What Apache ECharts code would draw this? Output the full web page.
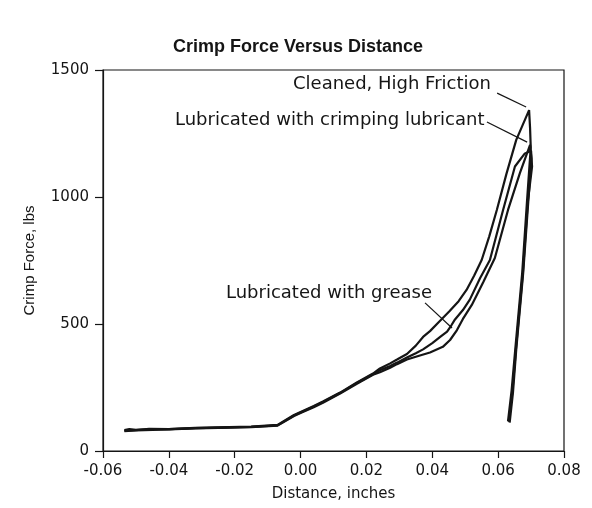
<!DOCTYPE html>
<html>

	<head>
		<meta charset="UTF-8">
		<title>Crimp Force Versus Distance</title>
		<script src="https://cdn.jsdelivr.net/npm/echarts@6.0.0/dist/echarts.min.js"></script>
		<style>
			html, body {
				margin: 0;
				padding: 0;
				background: #fff;
			}
			
			#chart {
				width: 592px;
				height: 508px;
			}
		</style>
	</head>

	<body>
		<div id="chart"></div>
		<script>
			// axis ticks
			var xTicks = [-0.06, -0.04, -0.02, 0.00, 0.02, 0.04, 0.06, 0.08];
			var yTicks = [0, 500, 1000, 1500];

			// curve names
			var seriesNames = ["Cleaned, High Friction", "Lubricated with crimping lubricant", "Lubricated with grease"];

			// [distance in, force lbs]
			var cleanedHighFriction = [
				[-0.0535, 82], [-0.052, 86], [-0.050, 83], [-0.045, 86], [-0.040, 86], [-0.032, 91], [-0.025, 93],
				[-0.015, 96], [-0.007, 103], [-0.002, 142], [0.000, 154], [0.004, 177], [0.0068, 195], [0.012, 230],
				[0.0171, 270], [0.022, 305], [0.0241, 325], [0.0272, 345], [0.0293, 360], [0.0323, 382], [0.035, 415],
				[0.0372, 449], [0.0393, 472], [0.042, 508], [0.0452, 550], [0.048, 590], [0.0504, 634], [0.0527, 690],
				[0.055, 752], [0.0573, 845], [0.0596, 949], [0.0625, 1090], [0.0655, 1225], [0.0694, 1342],
				[0.0697, 1270], [0.0699, 1195], [0.0688, 990], [0.0673, 700], [0.0652, 400], [0.0641, 240], [0.0630, 118]
			];
			var crimpingLubricant = [
				[-0.0535, 78], [-0.050, 81], [-0.045, 83], [-0.040, 85], [-0.032, 89], [-0.025, 91], [-0.015, 94],
				[-0.007, 100], [-0.002, 138], [0.000, 150], [0.004, 172], [0.0068, 190], [0.012, 226], [0.0171, 265],
				[0.022, 300], [0.0241, 310], [0.0272, 328], [0.0293, 342], [0.0323, 360], [0.036, 375], [0.0393, 388],
				[0.0432, 410], [0.0454, 437], [0.0475, 476], [0.0493, 520], [0.052, 575], [0.0555, 665], [0.059, 760],
				[0.063, 949], [0.0666, 1094], [0.0697, 1205],
				[0.0701, 1150], [0.0692, 990], [0.0676, 700], [0.0655, 400], [0.0645, 230], [0.0635, 112]
			];
			var lubricatedGrease = [
				[-0.0535, 80], [-0.050, 82], [-0.046, 87], [-0.040, 86], [-0.032, 90], [-0.025, 92], [-0.015, 95],
				[-0.007, 101], [-0.002, 140], [0.000, 152], [0.004, 175], [0.0068, 193], [0.012, 228], [0.0171, 268],
				[0.022, 302], [0.0241, 318], [0.0272, 335], [0.0293, 348], [0.0323, 368], [0.035, 385], [0.0372, 400],
				[0.040, 425], [0.0425, 450], [0.0445, 470], [0.0458, 495], [0.0462, 490], [0.0469, 518], [0.0475, 515],
				[0.0493, 555], [0.0514, 596], [0.0545, 680], [0.0575, 752], [0.0615, 949], [0.0651, 1120],
				[0.068, 1170], [0.0700, 1182],
				[0.0703, 1120], [0.0690, 980], [0.0675, 700], [0.0654, 400], [0.0643, 230], [0.0632, 115]
			];

			// leader lines of the labels, from label end to curve
			var leaderCleaned = [[0.0597, 1409], [0.0685, 1354]];
			var leaderCrimping = [[0.0566, 1295], [0.0688, 1216]];
			var leaderGrease = [[0.0378, 583], [0.0460, 484]];

			var ink = "#151515";
			var chart = echarts.init(document.getElementById("chart"), null, { renderer: "canvas" });

			function curve(name, data, leader) {
				return {
					name: name,
					type: "line",
					data: data,
					showSymbol: false,
					symbol: "none",
					smooth: false,
					lineStyle: { color: ink, width: 2.2 },
					markLine: {
						silent: true,
						symbol: ["none", "none"],
						label: { show: false },
						lineStyle: { color: ink, width: 1.2, type: "solid" },
						data: [[{ coord: leader[0] }, { coord: leader[1] }]]
					}
				};
			}

			var options = {
				animation: false,
				backgroundColor: "#fff",
				title: {
					text: "Crimp Force Versus Distance",
					left: 173,
					top: 38,
					padding: 0,
					textStyle: {
						fontFamily: "Liberation Sans",
						fontSize: 18,
						fontWeight: "bold",
						color: ink
					}
				},
				grid: {
					left: 103,
					right: 28,
					top: 70,
					bottom: 57,
					show: true,
					borderColor: ink,
					borderWidth: 1.2,
					containLabel: false,
					outerBoundsMode: "none"
				},
				xAxis: {
					type: "value",
					min: xTicks[0],
					max: xTicks[xTicks.length - 1],
					interval: 0.02,
					name: "Distance, inches",
					nameLocation: "middle",
					nameGap: 36,
					nameTextStyle: { fontFamily: "DejaVu Sans", fontSize: 15, color: ink },
					axisLine: { onZero: false, lineStyle: { color: ink, width: 1.2 } },
					axisTick: { length: 7, lineStyle: { color: ink, width: 1.2 } },
					axisLabel: {
						margin: 13,
						fontFamily: "DejaVu Sans",
						fontSize: 15,
						color: ink,
						formatter: function(v) {
							return v.toFixed(2);
						}
					},
					splitLine: { show: false }
				},
				yAxis: {
					type: "value",
					min: yTicks[0],
					max: yTicks[yTicks.length - 1],
					interval: 500,
					name: "Crimp Force, lbs",
					nameLocation: "middle",
					nameGap: 66,
					nameTextStyle: { fontFamily: "Liberation Sans", fontSize: 15, color: ink },
					axisLine: { show: true, onZero: false, lineStyle: { color: ink, width: 1.2 } },
					axisTick: { show: true, length: 8, lineStyle: { color: ink, width: 1.2 } },
					axisLabel: {
						margin: 14,
						fontFamily: "DejaVu Sans",
						fontSize: 15,
						color: ink,
						formatter: function(v) {
							return String(v);
						}
					},
					splitLine: { show: false }
				},
				graphic: [{
					type: "text",
					x: 293,
					y: 84,
					style: { text: seriesNames[0], fontFamily: "DejaVu Sans", fontSize: 18, fill: ink, verticalAlign: "middle" }
				}, {
					type: "text",
					x: 175,
					y: 120,
					style: { text: seriesNames[1], fontFamily: "DejaVu Sans", fontSize: 18, fill: ink, verticalAlign: "middle" }
				}, {
					type: "text",
					x: 226,
					y: 293,
					style: { text: seriesNames[2], fontFamily: "DejaVu Sans", fontSize: 18, fill: ink, verticalAlign: "middle" }
				}],
				series: [
					curve(seriesNames[0], cleanedHighFriction, leaderCleaned),
					curve(seriesNames[1], crimpingLubricant, leaderCrimping),
					curve(seriesNames[2], lubricatedGrease, leaderGrease)
				]
			};
			chart.setOption(options);
		</script>
	</body>

</html>
